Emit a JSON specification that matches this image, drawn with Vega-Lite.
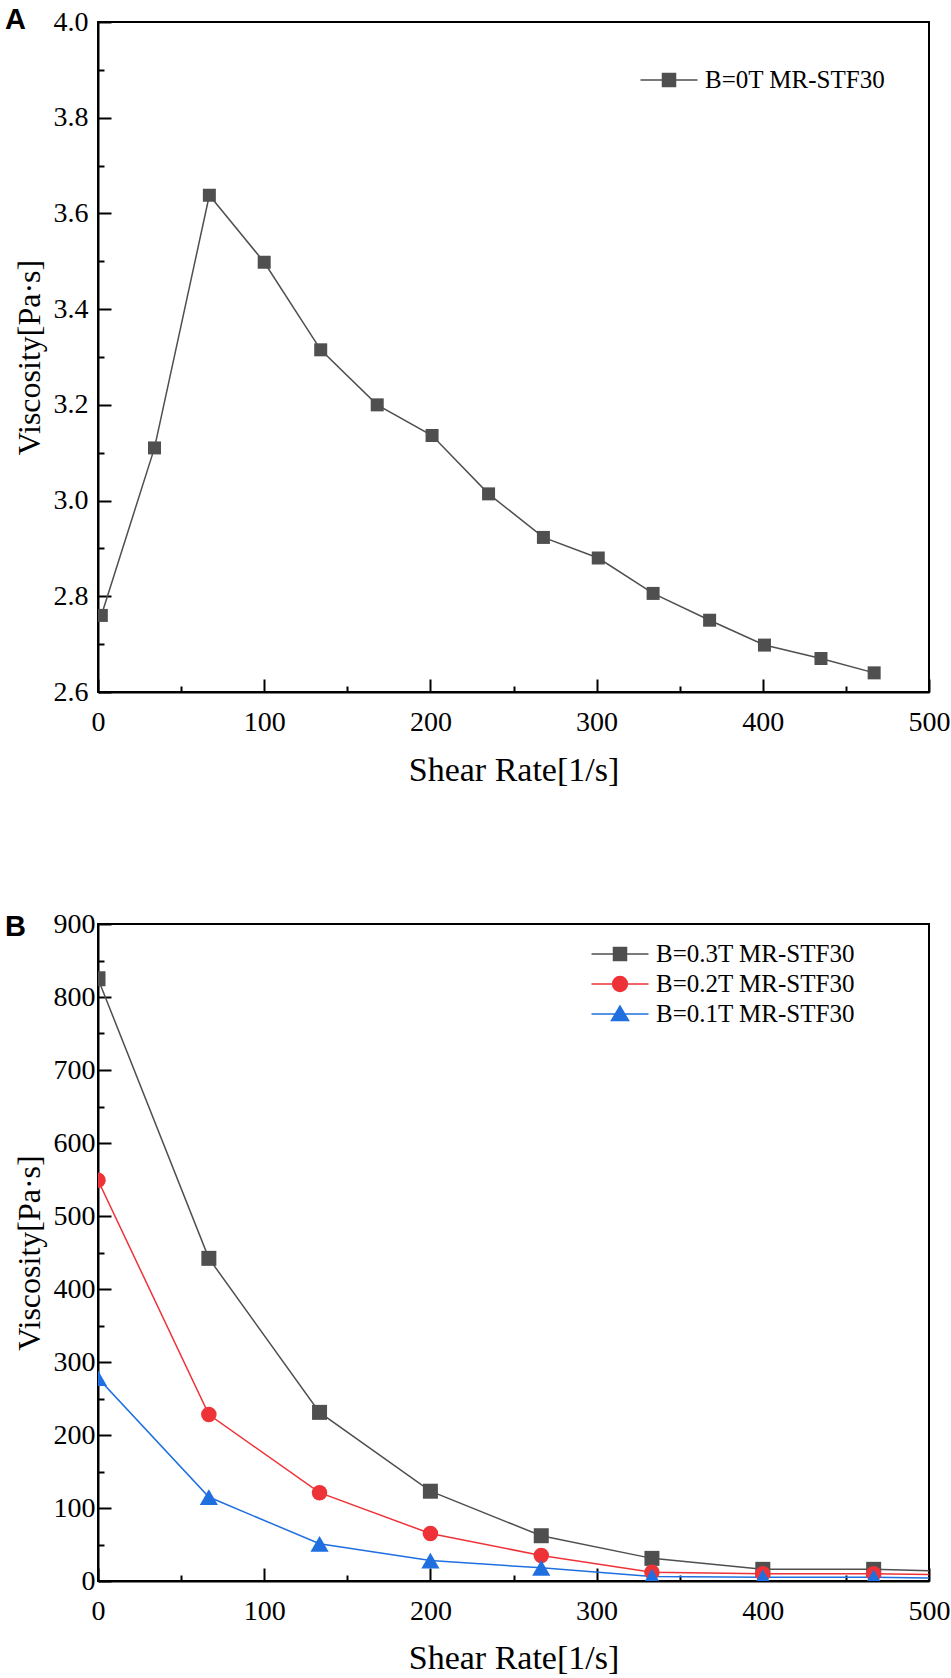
{
  "$schema": "https://vega.github.io/schema/vega-lite/v6.json",
  "background": "white",
  "padding": {"left": 4, "top": 5, "right": 5, "bottom": 0},
  "bounds": "flush",
  "spacing": 232,
  "resolve": {
    "scale": {"color": "independent", "x": "independent", "y": "independent"},
    "legend": {"color": "independent"}
  },
  "datasets": {
    "a": [
      {"series": "B=0T MR-STF30", "rate": 2, "viscosity": 2.760, "marker": true},
      {"series": "B=0T MR-STF30", "rate": 34, "viscosity": 3.110, "marker": true},
      {"series": "B=0T MR-STF30", "rate": 67, "viscosity": 3.638, "marker": true},
      {"series": "B=0T MR-STF30", "rate": 100, "viscosity": 3.498, "marker": true},
      {"series": "B=0T MR-STF30", "rate": 134, "viscosity": 3.315, "marker": true},
      {"series": "B=0T MR-STF30", "rate": 168, "viscosity": 3.200, "marker": true},
      {"series": "B=0T MR-STF30", "rate": 201, "viscosity": 3.136, "marker": true},
      {"series": "B=0T MR-STF30", "rate": 235, "viscosity": 3.014, "marker": true},
      {"series": "B=0T MR-STF30", "rate": 268, "viscosity": 2.923, "marker": true},
      {"series": "B=0T MR-STF30", "rate": 301, "viscosity": 2.880, "marker": true},
      {"series": "B=0T MR-STF30", "rate": 334, "viscosity": 2.806, "marker": true},
      {"series": "B=0T MR-STF30", "rate": 368, "viscosity": 2.750, "marker": true},
      {"series": "B=0T MR-STF30", "rate": 401, "viscosity": 2.698, "marker": true},
      {"series": "B=0T MR-STF30", "rate": 435, "viscosity": 2.670, "marker": true},
      {"series": "B=0T MR-STF30", "rate": 467, "viscosity": 2.640, "marker": true}
    ],
    "b": [
      {"series": "B=0.3T MR-STF30", "rate": 0, "viscosity": 825, "marker": true},
      {"series": "B=0.3T MR-STF30", "rate": 66.7, "viscosity": 442, "marker": true},
      {"series": "B=0.3T MR-STF30", "rate": 133.3, "viscosity": 231, "marker": true},
      {"series": "B=0.3T MR-STF30", "rate": 200, "viscosity": 123, "marker": true},
      {"series": "B=0.3T MR-STF30", "rate": 266.7, "viscosity": 62, "marker": true},
      {"series": "B=0.3T MR-STF30", "rate": 333.3, "viscosity": 31, "marker": true},
      {"series": "B=0.3T MR-STF30", "rate": 400, "viscosity": 16, "marker": true},
      {"series": "B=0.3T MR-STF30", "rate": 466.7, "viscosity": 16, "marker": true},
      {"series": "B=0.3T MR-STF30", "rate": 500, "viscosity": 14, "marker": false},
      {"series": "B=0.2T MR-STF30", "rate": 0, "viscosity": 549, "marker": true},
      {"series": "B=0.2T MR-STF30", "rate": 66.7, "viscosity": 228, "marker": true},
      {"series": "B=0.2T MR-STF30", "rate": 133.3, "viscosity": 121, "marker": true},
      {"series": "B=0.2T MR-STF30", "rate": 200, "viscosity": 65, "marker": true},
      {"series": "B=0.2T MR-STF30", "rate": 266.7, "viscosity": 35, "marker": true},
      {"series": "B=0.2T MR-STF30", "rate": 333.3, "viscosity": 12, "marker": true},
      {"series": "B=0.2T MR-STF30", "rate": 400, "viscosity": 10, "marker": true},
      {"series": "B=0.2T MR-STF30", "rate": 466.7, "viscosity": 10, "marker": true},
      {"series": "B=0.2T MR-STF30", "rate": 500, "viscosity": 9, "marker": false},
      {"series": "B=0.1T MR-STF30", "rate": 0, "viscosity": 278, "marker": true},
      {"series": "B=0.1T MR-STF30", "rate": 66.7, "viscosity": 115, "marker": true},
      {"series": "B=0.1T MR-STF30", "rate": 133.3, "viscosity": 51, "marker": true},
      {"series": "B=0.1T MR-STF30", "rate": 200, "viscosity": 28, "marker": true},
      {"series": "B=0.1T MR-STF30", "rate": 266.7, "viscosity": 18, "marker": true},
      {"series": "B=0.1T MR-STF30", "rate": 333.3, "viscosity": 6, "marker": true},
      {"series": "B=0.1T MR-STF30", "rate": 400, "viscosity": 5, "marker": true},
      {"series": "B=0.1T MR-STF30", "rate": 466.7, "viscosity": 5, "marker": true},
      {"series": "B=0.1T MR-STF30", "rate": 500, "viscosity": 4, "marker": false}
    ]
  },
  "config": {
    "font": "Liberation Serif",
    "style": {
      "guide-label": {"font": "Liberation Serif", "fontSize": 28, "fill": "black"},
      "guide-title": {"font": "Liberation Serif", "fill": "black"}
    },
    "view": {"stroke": "black", "strokeWidth": 2},
    "axis": {
      "domainColor": "black", "domainWidth": 2,
      "tickColor": "black", "tickWidth": 2,
      "grid": false,
      "labelFont": "Liberation Serif", "labelFontSize": 28, "labelColor": "black",
      "labelFlush": false, "labelOverlap": false,
      "titleFont": "Liberation Serif", "titleFontWeight": "normal", "titleColor": "black"
    },
    "legend": {
      "labelFont": "Liberation Serif", "labelFontSize": 25, "labelColor": "black",
      "labelLimit": 400, "padding": 0, "symbolSize": 812, "labelOffset": 21, "rowPadding": 2
    }
  },
  "vconcat": [
    {
      "width": 831,
      "height": 670,
      "title": {"text": "A", "anchor": "start", "frame": "group", "font": "Liberation Sans", "fontSize": 29, "fontWeight": "bold", "color": "black", "baseline": "alphabetic", "dx": -93, "offset": -50},
      "data": {"name": "a"},
      "encoding": {
        "x": {
          "field": "rate", "type": "quantitative",
          "scale": {"domain": [0, 500], "nice": false},
          "axis": {
            "values": [0, 50, 100, 150, 200, 250, 300, 350, 400, 450, 500],
            "tickSize": {"condition": {"test": "datum.value % 100 != 0", "value": -6}, "value": -13},
            "labelExpr": "datum.value % 100 == 0 ? datum.label : ''",
            "labelFont": "Liberation Serif", "labelFontSize": 28, "labelColor": "black",
            "labelPadding": 29,
            "title": "Shear Rate[1/s]", "titleFont": "Liberation Serif", "titleFontSize": 34, "titlePadding": 10
          }
        },
        "y": {
          "field": "viscosity", "type": "quantitative",
          "scale": {"domain": [2.6, 4.0], "zero": false, "nice": false},
          "axis": {
            "values": [2.6, 2.7, 2.8, 2.9, 3.0, 3.1, 3.2, 3.3, 3.4, 3.5, 3.6, 3.7, 3.8, 3.9, 4.0],
            "format": ".1f",
            "tickSize": {"condition": {"test": "round(datum.value * 10) % 2 != 0", "value": -6}, "value": -13},
            "labelExpr": "round(datum.value * 10) % 2 == 0 ? datum.label : ''",
            "labelFont": "Liberation Serif", "labelFontSize": 28, "labelColor": "black",
            "labelPadding": 23,
            "title": "Viscosity[Pa·s]", "titleFont": "Liberation Serif", "titleFontSize": 32, "titlePadding": 7
          }
        },
        "color": {
          "field": "series", "type": "nominal",
          "scale": {"domain": ["B=0T MR-STF30"], "range": ["#4f4f4f"]},
          "legend": {
            "orient": "none", "legendX": 556, "legendY": 43, "title": null,
            "encode": {"symbols": {"update": {
              "shape": {"value": "M-2,0L2,0M-0.456,-0.456H0.456V0.456H-0.456Z"},
              "fill": {"value": "#4f4f4f"}, "stroke": {"value": "#4f4f4f"},
              "strokeWidth": {"value": 1.5}, "opacity": {"value": 1}, "fillOpacity": {"value": 1}
            }}}
          }
        }
      },
      "layer": [
        {"mark": {"type": "line", "strokeWidth": 1.5, "clip": true}},
        {"mark": {"type": "point", "filled": true, "opacity": 1, "shape": "square", "size": 169, "clip": true}}
      ]
    },
    {
      "width": 831,
      "height": 657,
      "title": {"text": "B", "anchor": "start", "frame": "group", "font": "Liberation Sans", "fontSize": 29, "fontWeight": "bold", "color": "black", "baseline": "alphabetic", "dx": -93, "offset": -55},
      "data": {"name": "b"},
      "encoding": {
        "x": {
          "field": "rate", "type": "quantitative",
          "scale": {"domain": [0, 500], "nice": false},
          "axis": {
            "values": [0, 50, 100, 150, 200, 250, 300, 350, 400, 450, 500],
            "tickSize": {"condition": {"test": "datum.value % 100 != 0", "value": -6}, "value": -13},
            "labelExpr": "datum.value % 100 == 0 ? datum.label : ''",
            "labelFont": "Liberation Serif", "labelFontSize": 28, "labelColor": "black",
            "labelPadding": 29,
            "title": "Shear Rate[1/s]", "titleFont": "Liberation Serif", "titleFontSize": 34, "titlePadding": 9
          }
        },
        "y": {
          "field": "viscosity", "type": "quantitative",
          "scale": {"domain": [0, 900], "nice": false},
          "axis": {
            "values": [0, 50, 100, 150, 200, 250, 300, 350, 400, 450, 500, 550, 600, 650, 700, 750, 800, 850, 900],
            "tickSize": {"condition": {"test": "datum.value % 100 != 0", "value": -6}, "value": -13},
            "labelExpr": "datum.value % 100 == 0 ? datum.label : ''",
            "labelFont": "Liberation Serif", "labelFontSize": 28, "labelColor": "black",
            "labelPadding": 16,
            "title": "Viscosity[Pa·s]", "titleFont": "Liberation Serif", "titleFontSize": 32, "titlePadding": 7
          }
        },
        "color": {
          "field": "series", "type": "nominal",
          "scale": {"domain": ["B=0.3T MR-STF30", "B=0.2T MR-STF30", "B=0.1T MR-STF30"], "range": ["#4f4f4f", "#ee3338", "#1f6fe0"]},
          "legend": {
            "orient": "none", "legendX": 507, "legendY": 15, "title": null,
            "encode": {"symbols": {"update": {
              "shape": {"signal": "datum.value === 'B=0.3T MR-STF30' ? 'M-2,0L2,0M-0.456,-0.456H0.456V0.456H-0.456Z' : datum.value === 'B=0.2T MR-STF30' ? 'M-2,0L2,0M0.52,0A0.52,0.52,0,1,1,-0.52,0A0.52,0.52,0,1,1,0.52,0Z' : 'M-2,0L2,0M0,-0.56L0.6,0.46L-0.6,0.46Z'"},
              "fill": {"signal": "datum.value === 'B=0.3T MR-STF30' ? '#4f4f4f' : datum.value === 'B=0.2T MR-STF30' ? '#ee3338' : '#1f6fe0'"},
              "stroke": {"signal": "datum.value === 'B=0.3T MR-STF30' ? '#4f4f4f' : datum.value === 'B=0.2T MR-STF30' ? '#ee3338' : '#1f6fe0'"},
              "strokeWidth": {"value": 1.5}, "opacity": {"value": 1}, "fillOpacity": {"value": 1}
            }}}
          }
        }
      },
      "layer": [
        {"mark": {"type": "line", "strokeWidth": 1.5, "clip": true}},
        {
          "transform": [{"filter": "datum.marker && datum.series === 'B=0.3T MR-STF30'"}],
          "mark": {"type": "point", "filled": true, "opacity": 1, "shape": "square", "size": 225, "clip": true}
        },
        {
          "transform": [{"filter": "datum.marker && datum.series === 'B=0.2T MR-STF30'"}],
          "mark": {"type": "point", "filled": true, "opacity": 1, "shape": "circle", "size": 240, "clip": true}
        },
        {
          "transform": [{"filter": "datum.marker && datum.series === 'B=0.1T MR-STF30'"}],
          "mark": {"type": "point", "filled": true, "opacity": 1, "shape": "triangle-up", "size": 330, "clip": true}
        }
      ]
    }
  ]
}
